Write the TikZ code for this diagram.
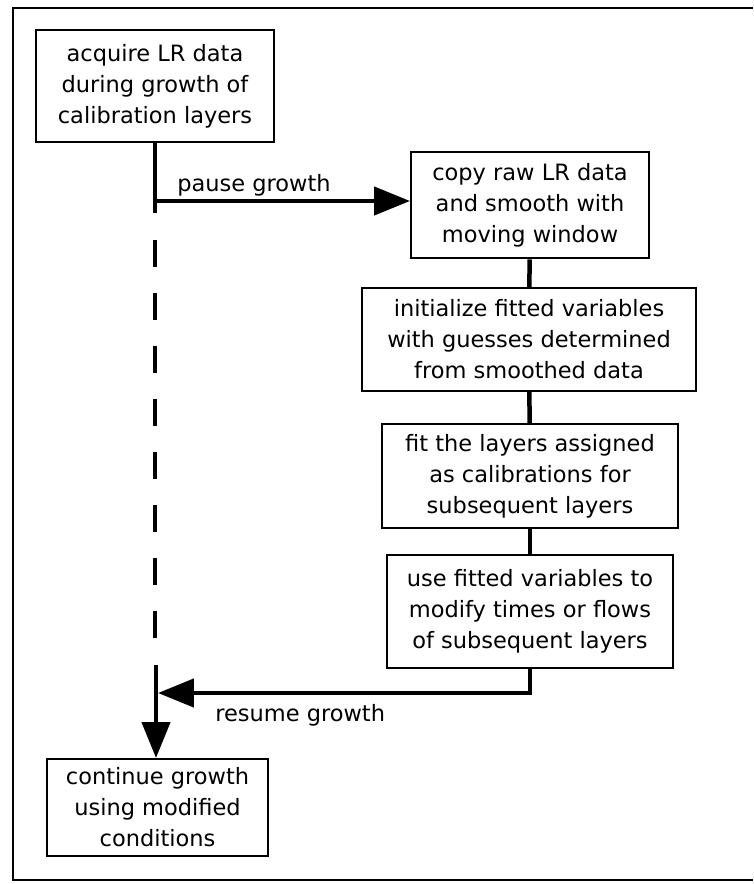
\documentclass[tikz,border=0pt]{standalone}
\usepackage{fontspec}
\setmainfont{DejaVu Sans}
\usetikzlibrary{arrows.meta}

\begin{document}
\begin{tikzpicture}[%
	x=0.02cm, y=-0.02cm,
	font=\fontsize{12.8}{17.6}\selectfont,
	box/.style={draw, line width=0.04cm, align=center, inner sep=0pt},
	flow/.style={line width=0.09cm},
	tip/.style={-{Triangle[length=0.72cm,width=0.56cm]}}]
	\useasboundingbox (0,0) rectangle (753,884);
	% frame, open on the right
	\draw[line width=0.05cm] (753,8) -- (13,8) -- (13,880) -- (753,880);
	\node[box, minimum width=4.76cm, minimum height=2.24cm] (acq) at (155,86)
		{acquire LR data\\during growth of\\calibration layers};
	\node[box, minimum width=4.76cm, minimum height=2.14cm] (copy) at (530,205)
		{copy raw LR data\\and smooth with\\moving window};
	\node[box, minimum width=6.68cm, minimum height=2.06cm] (init) at (529,339.5)
		{initialize fitted variables\\with guesses determined\\from smoothed data};
	\node[box, minimum width=5.92cm, minimum height=2.08cm] (fit) at (530,476)
		{fit the layers assigned\\as calibrations for\\subsequent layers};
	\node[box, minimum width=5.72cm, minimum height=2.26cm] (use) at (530,611.5)
		{use fitted variables to\\modify times or flows\\of subsequent layers};
	\node[box, minimum width=4.42cm, minimum height=1.94cm] (cont) at (157.5,807.5)
		{continue growth\\using modified\\conditions};
	\coordinate (split) at (155,201);
	\coordinate (dashtop) at (155,213);
	\coordinate (dashgo) at (155,240);
	\coordinate (dashstop) at (155,638);
	\coordinate (dashtail) at (156,665);
	\coordinate (merge) at (158,693);
	% main line
	\draw[flow] (acq.south) -- (dashtop);
	\draw[flow, dash pattern=on 0.54cm off 0.52cm] (dashgo) -- (dashstop);
	\draw[flow, tip] (dashtail) -- (dashtail |- cont.north);
	% side branch
	\draw[flow, tip] (split) -- (split -| copy.west);
	\draw[flow] (copy) -- (init);
	\draw[flow] (init) -- (fit);
	\draw[flow] (fit) -- (use);
	\draw[flow, tip] (use.south) |- (merge);
	\node[anchor=base west, inner sep=0pt] (pause) at (177,192) {pause growth};
	\node[anchor=base west, inner sep=0pt] (resume) at (215,721) {resume growth};
\end{tikzpicture}
\end{document}
